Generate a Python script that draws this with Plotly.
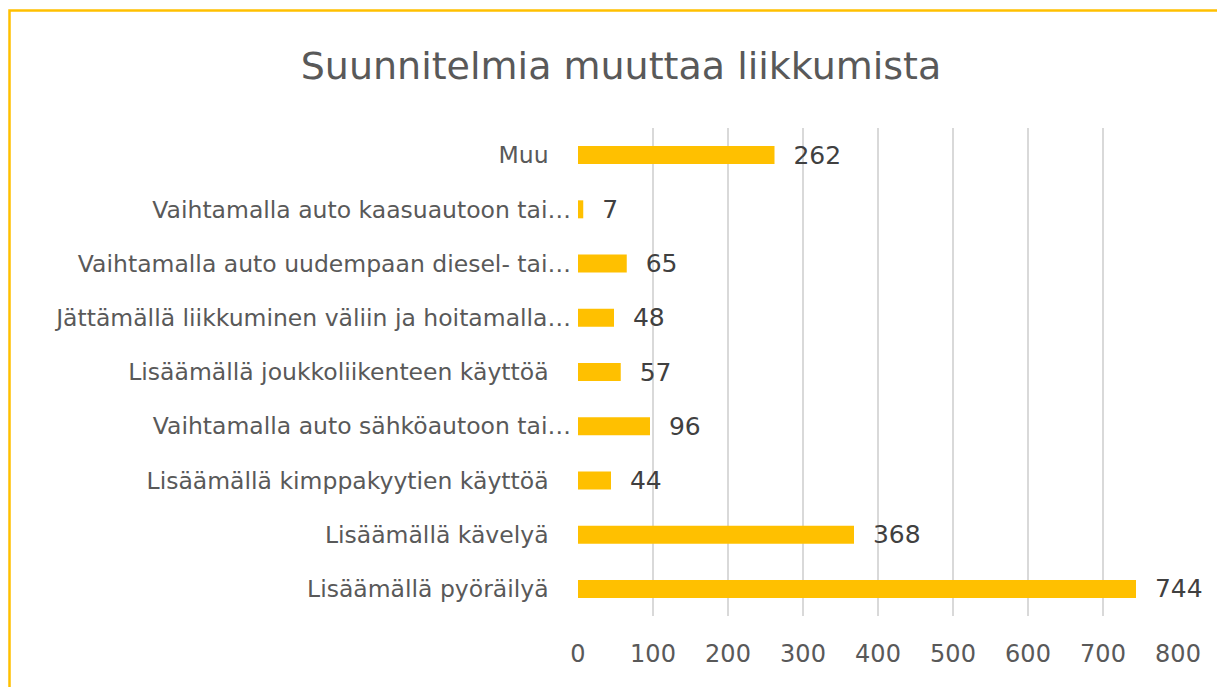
import plotly.graph_objects as go

categories = [
    "Lisäämällä pyöräilyä",
    "Lisäämällä kävelyä",
    "Lisäämällä kimppakyytien käyttöä",
    "Vaihtamalla auto sähköautoon tai…",
    "Lisäämällä joukkoliikenteen käyttöä",
    "Jättämällä liikkuminen väliin ja hoitamalla…",
    "Vaihtamalla auto uudempaan diesel- tai…",
    "Vaihtamalla auto kaasuautoon tai…",
    "Muu",
]
values = [744, 368, 44, 96, 57, 48, 65, 7, 262]
x_ticks = [0, 100, 200, 300, 400, 500, 600, 700, 800]
title_text = "Suunnitelmia muuttaa liikkumista"

# truncated labels sit closer to the axis, as in the original
tick_text = [c if c.endswith("…") else c + "\u00a0\u00a0\u00a0" for c in categories]

FONT = "DejaVu Sans"
OFF = 8  # page body margin
W, H = 1225 - OFF, 687 - OFF
L, T = 578 - OFF, 128 - OFF
R = W - (1178 - OFF)
B = H - (616 - OFF)
pw, ph = W - L - R, H - T - B

fig = go.Figure(go.Bar(
    y=categories, x=values, orientation="h",
    marker=dict(color="#FFC000", line=dict(width=0)),
    text=values, texttemplate="  %{x}", textposition="outside",
    constraintext="none",
    textfont=dict(family=FONT, size=25, color="#404040"),
    cliponaxis=False,
))

def px_x(p):
    return (p - OFF - L) / pw

def px_y(p):
    return (H - B - (p - OFF)) / ph

fig.update_layout(
    width=W, height=H,
    margin=dict(l=L, r=R, t=T, b=B, autoexpand=False),
    paper_bgcolor="white", plot_bgcolor="white",
    showlegend=False,
    bargap=0.668,
    title=dict(text=title_text, x=(621 - OFF) / W, xanchor="center",
               y=1 - (66 - OFF) / H, yanchor="middle",
               font=dict(family=FONT, size=38, color="#595959")),
    xaxis=dict(range=[0, 800], tickvals=x_ticks, showgrid=True, gridcolor="#D9D9D9", gridwidth=2,
               zeroline=False, showline=False, ticks="",
               tickfont=dict(family=FONT, size=24, color="#595959"), ticklabelstandoff=21),
    yaxis=dict(categoryorder="array", categoryarray=categories,
               tickmode="array", tickvals=categories, ticktext=tick_text,
               showgrid=False, zeroline=False, showline=False, ticks="",
               tickfont=dict(family=FONT, size=23.5, color="#595959"), ticklabelstandoff=6),
    shapes=[dict(type="rect", xref="paper", yref="paper",
                 x0=px_x(9.5), x1=px_x(1240), y0=px_y(700), y1=px_y(10.5),
                 line=dict(color="#FFC000", width=2.5), fillcolor="rgba(0,0,0,0)", layer="below")],
)

fig.write_html("out.html")
